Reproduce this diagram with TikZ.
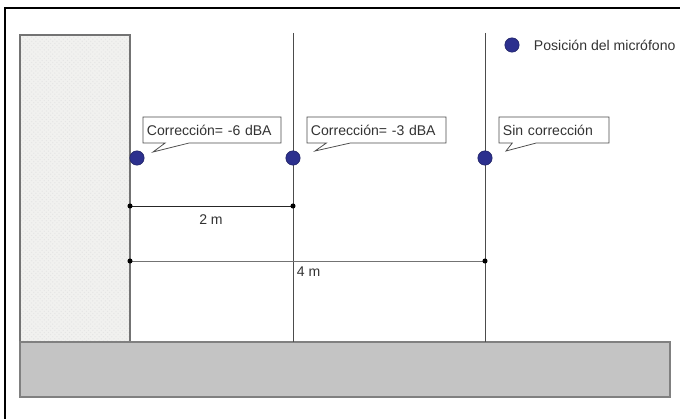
\documentclass[tikz,border=0pt]{standalone}
\usepackage{fontspec}
\setmainfont{Liberation Sans}
\usetikzlibrary{shapes.callouts, patterns}
\definecolor{micblue}{RGB}{44,48,142}
\definecolor{groundgray}{RGB}{196,196,196}
\definecolor{wallgray}{RGB}{241,241,239}

\begin{document}
\begin{tikzpicture}[x=0.025cm, y=-0.025cm, font=\fontsize{10}{12}\selectfont, text=black!80,
    mic/.style={circle, fill=micblue, draw=micblue!70!black, inner sep=0pt, minimum size=0.36cm},
    note/.style={rectangle callout, draw=black!70, fill=white, line width=0.55pt,
        minimum height=0.65cm, inner xsep=0.1cm, align=left, callout pointer width=0.6cm},
    post/.style={draw=black!70, line width=0.7pt},
    dimline/.style={draw=black!85, line width=0.7pt}]
\useasboundingbox (0,0) rectangle (680,419);
% frame
\draw[line width=1.2pt] (5,419) -- (5,8) -- (680,8);
% wall and ground
\fill[wallgray] (20,35) rectangle (130,342);
\fill[pattern=crosshatch dots, pattern color=black!10] (20,35) rectangle (130,342);
\draw[draw=black!55, line width=1pt] (20,35) rectangle (130,342);
\draw[fill=groundgray, draw=black!50, line width=1.2pt] (20,342) rectangle (670,397);
% vertical lines
\coordinate (topB) at (293,33);
\coordinate (footB) at (293,342);
\coordinate (topC) at (485,33);
\coordinate (footC) at (485,342);
\draw[post] (topB) -- (footB);
\draw[post] (topC) -- (footC);
% microphones
\node[mic] (micA) at (137,158) {};
\node[mic] (micB) at (293,158) {};
\node[mic] (micC) at (485,158) {};
% callouts
\coordinate (tipA) at (153,152);
\coordinate (tipB) at (315,151);
\coordinate (tipC) at (506,151);
\node[note, text width=3.25cm, callout absolute pointer=(tipA)] (noteA) at (212,130) {Corrección= -6 dBA};
\node[note, text width=3.275cm, callout absolute pointer=(tipB)] (noteB) at (376.5,130) {Corrección= -3 dBA};
\node[note, text width=2.55cm, callout absolute pointer=(tipC)] (noteC) at (554,130) {Sin corrección};
% distances
\coordinate (dimAa) at (130,206);
\coordinate (dimAb) at (293,206);
\coordinate (dimBa) at (130,261);
\coordinate (dimBb) at (485,261);
\draw[dimline] (dimAa) -- (dimAb);
\draw[dimline, draw=black!55] (dimBa) -- (dimBb);
\foreach \p in {dimAa, dimAb, dimBa, dimBb}
    \fill (\p) circle (1.8pt);
\node (lenA) at (211,220) {2 m};
\node[anchor=west] (lenB) at (292,272) {4 m};
% legend
\node[mic] (key) at (512,45) {};
\node[anchor=west] (keytext) at (529,45) {Posición del micrófono};
\end{tikzpicture}
\end{document}
